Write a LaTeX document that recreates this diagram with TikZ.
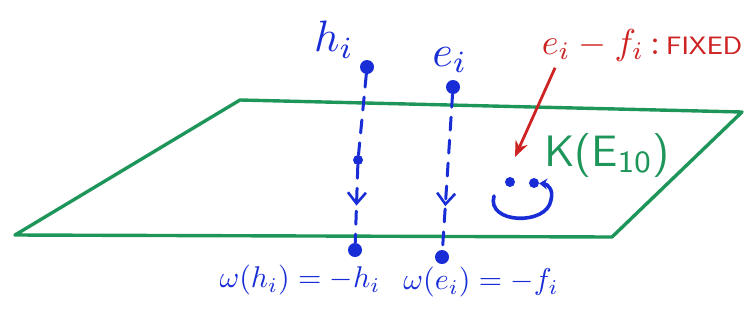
\documentclass[tikz,border=0pt]{standalone}
\usetikzlibrary{arrows.meta,decorations.markings}
\definecolor{inkblue}{RGB}{25,45,215}
\definecolor{inkgreen}{RGB}{30,150,90}
\definecolor{inkred}{RGB}{205,35,35}
\tikzset{
  plane/.style={draw=inkgreen, line width=3.4pt, line join=round},
  dot/.style={circle, fill=inkblue, inner sep=0pt, minimum size=14pt},
  smalldot/.style={dot, minimum size=10pt},
  bluelbl/.style={text=inkblue, scale=4.4, inner sep=0pt},
  maplbl/.style={text=inkblue, scale=3, inner sep=0pt},
  projline/.style={draw=inkblue, line width=3pt, dash pattern=on 13pt off 10pt, line cap=round},
  vmark/.style={postaction={decorate}, decoration={markings,
      mark=at position #1 with {\arrow[inkblue, line width=2.6pt]{Straight Barb[length=11pt, width=18pt]}}}},
  fixarrow/.style={draw=inkred, line width=2.8pt, -{Stealth[length=16pt, width=13pt]}},
  loopline/.style={draw=inkblue, line width=3.6pt, line cap=round, -{Stealth[length=8pt, width=11pt]}}
}
\begin{document}
\begin{tikzpicture}[x=1pt, y=-1pt]
  \useasboundingbox (0,0) rectangle (746,325);

  % the plane
  \draw[plane] (240,100) -- (742,112) -- (612,237) -- (15,235) -- cycle;

  % points and their images
  \node[dot] (hitop) at (367,67) {};
  \node[smalldot] (himid) at (358,160) {};
  \node[dot] (hibot) at (355,250) {};
  \node[dot] (eitop) at (453,87) {};
  \node[dot] (eibot) at (442,257) {};

  \node[bluelbl] (hilbl) at (334,40) {$h_i$};
  \node[bluelbl] (eilbl) at (450,60) {$e_i$};
  \node[maplbl] (himap) at (300,280) {$\omega(h_i)=-h_i$};
  \node[maplbl] (eimap) at (481,282) {$\omega(e_i)=-f_i$};

  \draw[projline] (hitop) -- (himid);
  \draw[projline, vmark=0.52] (himid) -- (hibot);
  \draw[projline, vmark=0.72] (eitop) -- (eibot);

  % fixed part
  \node[text=inkred, scale=3.6, inner sep=0pt] (fixlbl) at (642,45)
    {$e_i-f_i$\,{:}\,{\sffamily\scriptsize FIXED}};
  \node[text=inkgreen, scale=4.4, inner sep=0pt] (klbl) at (607,155)
    {\sffamily K(E\textsubscript{10})};
  \coordinate (fixtip) at (515,157);
  \draw[fixarrow] ([shift={(14,6)}]fixlbl.south west) -- (fixtip);

  \node[smalldot] (kdot1) at (510,182) {};
  \node[smalldot] (kdot2) at (534,183) {};
  \coordinate (loopstart) at (494,196);
  \draw[loopline] (loopstart) .. controls (486,224) and (547,226) .. (551,200)
    .. controls (554,189) and (547,184) .. (kdot2);
\end{tikzpicture}
\end{document}
